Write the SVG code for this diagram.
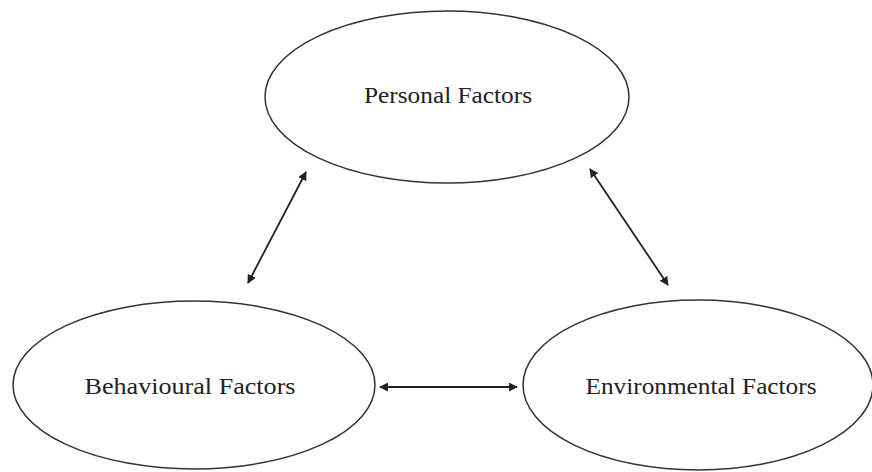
<svg xmlns="http://www.w3.org/2000/svg" width="872" height="472" viewBox="0 0 872 472">
<style>
.node ellipse{fill:#fff;stroke:#333;stroke-width:1.5}
.node text{font-family:"Liberation Serif","Times New Roman",serif;font-size:24px;fill:#222;text-anchor:middle}
.conn line{stroke:#222;stroke-width:1.8;marker-start:url(#ah);marker-end:url(#ah)}
</style>
<defs>
<marker id="ah" viewBox="0 0 10 10" refX="9" refY="5" markerWidth="5" markerHeight="5" orient="auto-start-reverse" markerUnits="strokeWidth">
<path d="M0,0 L10,5 L0,10 z" fill="#222"/>
</marker>
</defs>
<rect width="872" height="472" fill="#fff"/>
<g id="personal" class="node">
<ellipse cx="447" cy="97" rx="182" ry="86"/>
<text x="448" y="103" textLength="168" lengthAdjust="spacingAndGlyphs">Personal Factors</text>
</g>
<g id="behavioural" class="node">
<ellipse cx="194" cy="385" rx="181" ry="84"/>
<text x="190" y="394" textLength="211" lengthAdjust="spacingAndGlyphs">Behavioural Factors</text>
</g>
<g id="environmental" class="node">
<ellipse cx="698" cy="385" rx="175" ry="85"/>
<text x="701" y="394" textLength="231" lengthAdjust="spacingAndGlyphs">Environmental Factors</text>
</g>
<g id="connectors" class="conn">
<line x1="248" y1="283" x2="306" y2="172"/>
<line x1="590" y1="169" x2="668" y2="285"/>
<line x1="380" y1="387" x2="517" y2="387"/>
</g>
</svg>
